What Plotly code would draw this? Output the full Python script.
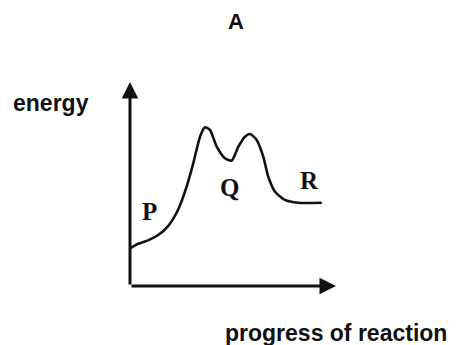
import plotly.graph_objects as go

# Energy profile (progress 0-10, energy 0-10)
progress = [0.0, 0.40, 0.90, 1.37, 1.86, 2.34, 2.75, 3.07, 3.40, 3.64, 3.88, 4.21, 4.61, 4.94,
            5.26, 5.58, 5.83, 6.15, 6.47, 6.71, 7.04, 7.52, 8.17, 9.31]
energy = [1.85, 2.07, 2.25, 2.50, 2.95, 3.75, 4.87, 6.01, 7.32, 7.78, 7.65, 6.83, 6.26, 6.15,
          6.83, 7.32, 7.45, 7.16, 6.34, 5.36, 4.62, 4.22, 4.08, 4.08]

point_labels = ["P", "Q", "R"]
label_x = [0.97, 4.81, 8.69]
label_y = [3.63, 4.85, 5.15]

title_text = "A"
x_label = "progress of reaction"
y_label = "energy"

fig = go.Figure()
fig.add_trace(go.Scatter(x=progress, y=energy, mode="lines",
                         line=dict(color="#111111", width=2.6, shape="spline", smoothing=0.6),
                         hoverinfo="skip", showlegend=False))

# axes as arrows
fig.add_annotation(x=10, y=0, ax=0, ay=0, xref="x", yref="y", axref="x", ayref="y",
                   showarrow=True, arrowhead=2, arrowsize=1.1, arrowwidth=3,
                   arrowcolor="#111111", text="", standoff=0)
fig.add_annotation(x=0, y=10, ax=0, ay=0, xref="x", yref="y", axref="x", ayref="y",
                   showarrow=True, arrowhead=2, arrowsize=1.1, arrowwidth=3,
                   arrowcolor="#111111", text="", standoff=0)

for t, lx, ly in zip(point_labels, label_x, label_y):
    fig.add_annotation(x=lx, y=ly, xref="x", yref="y", text="<b>" + t + "</b>",
                       showarrow=False, xanchor="center", yanchor="middle",
                       font=dict(family="Liberation Serif", size=25, color="#111111"))

fig.add_annotation(x=-0.383, y=0.897, xref="paper", yref="paper", text="<b>" + y_label + "</b>",
                   showarrow=False, xanchor="center", yanchor="middle",
                   font=dict(family="Liberation Sans", size=23, color="#111111"))
fig.add_annotation(x=1.0, y=-0.230, xref="paper", yref="paper", text="<b>" + x_label + "</b>",
                   showarrow=False, xanchor="center", yanchor="middle",
                   font=dict(family="Liberation Sans", size=23, color="#111111"))
fig.add_annotation(x=0.515, y=1.299, xref="paper", yref="paper", text="<b>" + title_text + "</b>",
                   showarrow=False, xanchor="center", yanchor="middle",
                   font=dict(family="Liberation Sans", size=22, color="#111111"))

fig.update_layout(
    width=450, height=337,
    margin=dict(l=122, r=122, t=74, b=59),
    paper_bgcolor="#ffffff", plot_bgcolor="rgba(0,0,0,0)",
    xaxis=dict(range=[0, 10], visible=False, fixedrange=True),
    yaxis=dict(range=[0, 10], visible=False, fixedrange=True),
)

fig.write_html("out.html")
